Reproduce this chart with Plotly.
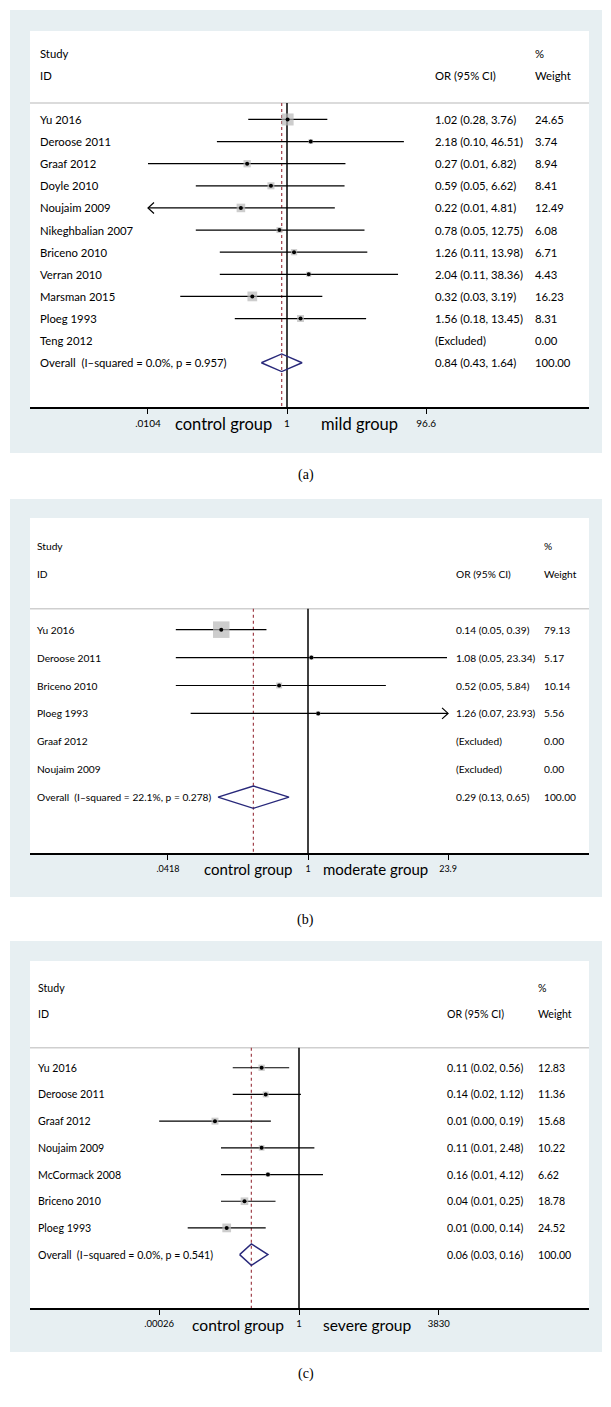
import plotly.graph_objects as go

# the page body adds an 8px margin, so the figure is drawn 8px in from the window corner
OFF = 8
W, H = 611 - OFF, 1407 - OFF

# ---- panel (a): control vs mild ----
a_study = ["Yu 2016", "Deroose 2011", "Graaf 2012", "Doyle 2010", "Noujaim 2009", "Nikeghbalian 2007",
           "Briceno 2010", "Verran 2010", "Marsman 2015", "Ploeg 1993", "Teng 2012"]
a_or = [1.02, 2.18, 0.27, 0.59, 0.22, 0.78, 1.26, 2.04, 0.32, 1.56, None]
a_lo = [0.28, 0.10, 0.0104, 0.05, 0.01, 0.05, 0.11, 0.11, 0.03, 0.18, None]
a_hi = [3.76, 46.51, 6.82, 6.62, 4.81, 12.75, 13.98, 38.36, 3.19, 13.45, None]
a_wt = [24.65, 3.74, 8.94, 8.41, 12.49, 6.08, 6.71, 4.43, 16.23, 8.31, 0.00]
a_overall = [0.84, 0.43, 1.64]
a_het = ["0.0%", "0.957"]
a_ticks = [0.0104, 1, 96.6]
a_ticktext = [".0104", "1", "96.6"]
a_groups = ["control group", "mild group"]

# ---- panel (b): control vs moderate ----
b_study = ["Yu 2016", "Deroose 2011", "Briceno 2010", "Ploeg 1993", "Graaf 2012", "Noujaim 2009"]
b_or = [0.14, 1.08, 0.52, 1.26, None, None]
b_lo = [0.05, 0.05, 0.05, 0.07, None, None]
b_hi = [0.39, 23.34, 5.84, 23.93, None, None]
b_wt = [79.13, 5.17, 10.14, 5.56, 0.00, 0.00]
b_overall = [0.29, 0.13, 0.65]
b_het = ["22.1%", "0.278"]
b_ticks = [0.0418, 1, 23.9]
b_ticktext = [".0418", "1", "23.9"]
b_groups = ["control group", "moderate group"]

# ---- panel (c): control vs severe ----
c_study = ["Yu 2016", "Deroose 2011", "Graaf 2012", "Noujaim 2009", "McCormack 2008", "Briceno 2010", "Ploeg 1993"]
c_or = [0.11, 0.14, 0.007, 0.11, 0.16, 0.04, 0.014]
c_lo = [0.02, 0.02, 0.00026, 0.01, 0.01, 0.01, 0.0014]
c_hi = [0.56, 1.12, 0.19, 2.48, 4.12, 0.25, 0.14]
c_wt = [12.83, 11.36, 15.68, 10.22, 6.62, 18.78, 24.52]
c_overall = [0.06, 0.03, 0.16]
c_het = ["0.0%", "0.541"]
c_ticks = [0.00026, 1, 3830]
c_ticktext = [".00026", "1", "3830"]
c_groups = ["control group", "severe group"]

FONT = "Lato"
BG = "#e7eff2"
NAVY = "#28287a"
RED = "#a0404a"

# pixel layout of each panel (frame, white area, axis, columns), in window pixels
panels = [
    dict(data=(a_study, a_or, a_lo, a_hi, a_wt, a_overall, a_het, a_ticks, a_ticktext, a_groups),
         bg=(10, 453), top=31, axis=407, x1=287, ppd=70.1, box=2.42,
         cols=(37.5, 433, 533), grp=(223, 359), grp_y=424, cap="(a)", cap_y=475,
         fs=11.3, gfs=16.5, tfs=10, arrows={4: "left"}),
    dict(data=(b_study, b_or, b_lo, b_hi, b_wt, b_overall, b_het, b_ticks, b_ticktext, b_groups),
         bg=(499, 897), top=518, axis=853, x1=308, ppd=101.6, box=1.86,
         cols=(35, 454, 542), grp=(248, 375), grp_y=869, cap="(b)", cap_y=920,
         fs=10.2, gfs=15, tfs=9, arrows={3: "right"}),
    dict(data=(c_study, c_or, c_lo, c_hi, c_wt, c_overall, c_het, c_ticks, c_ticktext, c_groups),
         bg=(941, 1352), top=961, axis=1308, x1=299, ppd=39.0, box=1.76,
         cols=(35.5, 445, 536), grp=(238, 367), grp_y=1325, cap="(c)", cap_y=1374,
         fs=10.6, gfs=15.6, tfs=9.5, arrows={}),
]

XL, XR = 30, 589

fig = go.Figure()
shapes = []
annots = []


def px(x):
    return (x - OFF) / W


def py(y):
    return 1 - (y - OFF) / H


for k, p in enumerate(panels, start=1):
    study, orv, lo, hi, wt, ov, het, ticks, ticktext, groups = p["data"]
    n = len(study)
    xa = "x" if k == 1 else "x%d" % k
    ya = "y" if k == 1 else "y%d" % k
    ppd = p["ppd"]
    row_px = (p["axis"] - p["top"]) / (n + 6)

    fig.update_layout(**{
        ("xaxis" if k == 1 else "xaxis%d" % k): dict(
            domain=[px(XL), px(XR)], type="log", anchor=ya,
            range=[(XL - p["x1"]) / ppd, (XR - p["x1"]) / ppd],
            tickvals=ticks, ticktext=ticktext, ticks="outside", ticklen=5, tickwidth=1,
            tickcolor="black", showline=True, linecolor="black", linewidth=1.5,
            showgrid=False, zeroline=False, tickfont=dict(family=FONT, size=p["tfs"], color="black"),
            ticklabelstandoff=1, fixedrange=True),
        ("yaxis" if k == 1 else "yaxis%d" % k): dict(
            domain=[py(p["axis"]), py(p["top"])], range=[n + 2, -4], anchor=xa,
            visible=False, fixedrange=True),
    })

    # frame and white plotting region
    shapes.append(dict(type="rect", xref="paper", yref="paper", x0=px(10), x1=px(602),
                       y0=py(p["bg"][1]), y1=py(p["bg"][0]), fillcolor=BG, line_width=0, layer="below"))
    shapes.append(dict(type="rect", xref="paper", yref="paper", x0=px(XL), x1=px(XR),
                       y0=py(p["axis"]), y1=py(p["top"]), fillcolor="white", line_width=0, layer="below"))
    # header separator
    shapes.append(dict(type="line", xref="paper", yref=ya, x0=px(XL), x1=px(XR), y0=-0.75, y1=-0.75,
                       line=dict(color="#cfcfcf", width=1.5), layer="below"))

    # overall estimate (dashed) and null line
    fig.add_trace(go.Scatter(x=[ov[0], ov[0]], y=[-0.75, n + 2], mode="lines", xaxis=xa, yaxis=ya,
                             line=dict(color=RED, width=1.2, dash="3px,3px"), hoverinfo="skip"))
    fig.add_trace(go.Scatter(x=[1, 1], y=[-0.75, n + 2], mode="lines", xaxis=xa, yaxis=ya,
                             line=dict(color="black", width=1.5), hoverinfo="skip"))

    # confidence intervals, clipped to the axis limits
    xmin, xmax = ticks[0], ticks[-1]
    cx, cy = [], []
    ax_, ay_ = [], []
    aw = 10 ** (6 / ppd)
    ah = 5.5 / row_px
    for i in range(n):
        if orv[i] is None:
            continue
        l, h = max(lo[i], xmin), min(hi[i], xmax)
        cx += [l, h, None]
        cy += [i, i, None]
        side = p["arrows"].get(i)
        if side == "left":
            ax_ += [l * aw, l, l * aw, None]
            ay_ += [i - ah, i, i + ah, None]
        elif side == "right":
            ax_ += [h / aw, h, h / aw, None]
            ay_ += [i - ah, i, i + ah, None]
    fig.add_trace(go.Scatter(x=cx, y=cy, mode="lines", xaxis=xa, yaxis=ya,
                             line=dict(color="black", width=1.2), hoverinfo="skip"))
    if ax_:
        fig.add_trace(go.Scatter(x=ax_, y=ay_, mode="lines", xaxis=xa, yaxis=ya,
                                 line=dict(color="black", width=1.2), hoverinfo="skip"))

    # weight boxes and point estimates
    idx = [i for i in range(n) if orv[i] is not None]
    fig.add_trace(go.Scatter(x=[orv[i] for i in idx], y=idx, mode="markers", xaxis=xa, yaxis=ya,
                             marker=dict(symbol="square", color="#b8b8b8",
                                         size=[p["box"] * wt[i] ** 0.5 for i in idx], line_width=0),
                             hoverinfo="skip"))
    fig.add_trace(go.Scatter(x=[orv[i] for i in idx], y=idx, mode="markers", xaxis=xa, yaxis=ya,
                             marker=dict(symbol="circle", color="black", size=4), hoverinfo="skip"))

    # pooled diamond
    dh = 0.4
    fig.add_trace(go.Scatter(x=[ov[1], ov[0], ov[2], ov[0], ov[1]], y=[n, n - dh, n, n + dh, n],
                             mode="lines", xaxis=xa, yaxis=ya,
                             line=dict(color=NAVY, width=1.4), hoverinfo="skip"))

    # text columns
    c0, c1, c2 = p["cols"]
    fs = p["fs"]

    def txt(x, y, s):
        annots.append(dict(x=px(x), xref="paper", y=y, yref=ya, text=s, showarrow=False,
                           xanchor="left", yanchor="middle",
                           font=dict(family=FONT, size=fs, color="black")))

    txt(c0, -3, "Study")
    txt(c0, -2, "ID")
    txt(c1, -2, "OR (95% CI)")
    txt(c2, -3, "%")
    txt(c2, -2, "Weight")
    for i in range(n):
        txt(c0, i, study[i])
        if orv[i] is None:
            txt(c1, i, "(Excluded)")
        else:
            txt(c1, i, "%.2f (%.2f, %.2f)" % (orv[i], lo[i], hi[i]))
        txt(c2, i, "%.2f" % wt[i])
    txt(c0, n, "Overall\u00a0 (I\u2013squared = %s, p = %s)" % (het[0], het[1]))
    txt(c1, n, "%.2f (%.2f, %.2f)" % (ov[0], ov[1], ov[2]))
    txt(c2, n, "100.00")

    # side labels under the axis
    for gx, g in zip(p["grp"], groups):
        annots.append(dict(x=px(gx), y=py(p["grp_y"]), xref="paper", yref="paper", text=g,
                           showarrow=False, xanchor="center", yanchor="middle",
                           font=dict(family=FONT, size=p["gfs"], color="black")))
    annots.append(dict(x=px(305.5), y=py(p["cap_y"]), xref="paper", yref="paper", text=p["cap"],
                       showarrow=False, xanchor="center", yanchor="middle",
                       font=dict(family="Liberation Serif", size=14, color="black")))

fig.update_layout(width=W, height=H, margin=dict(l=0, r=0, t=0, b=0),
                  paper_bgcolor="white", plot_bgcolor="rgba(0,0,0,0)",
                  showlegend=False, shapes=shapes, annotations=annots)

fig.write_html("out.html")
